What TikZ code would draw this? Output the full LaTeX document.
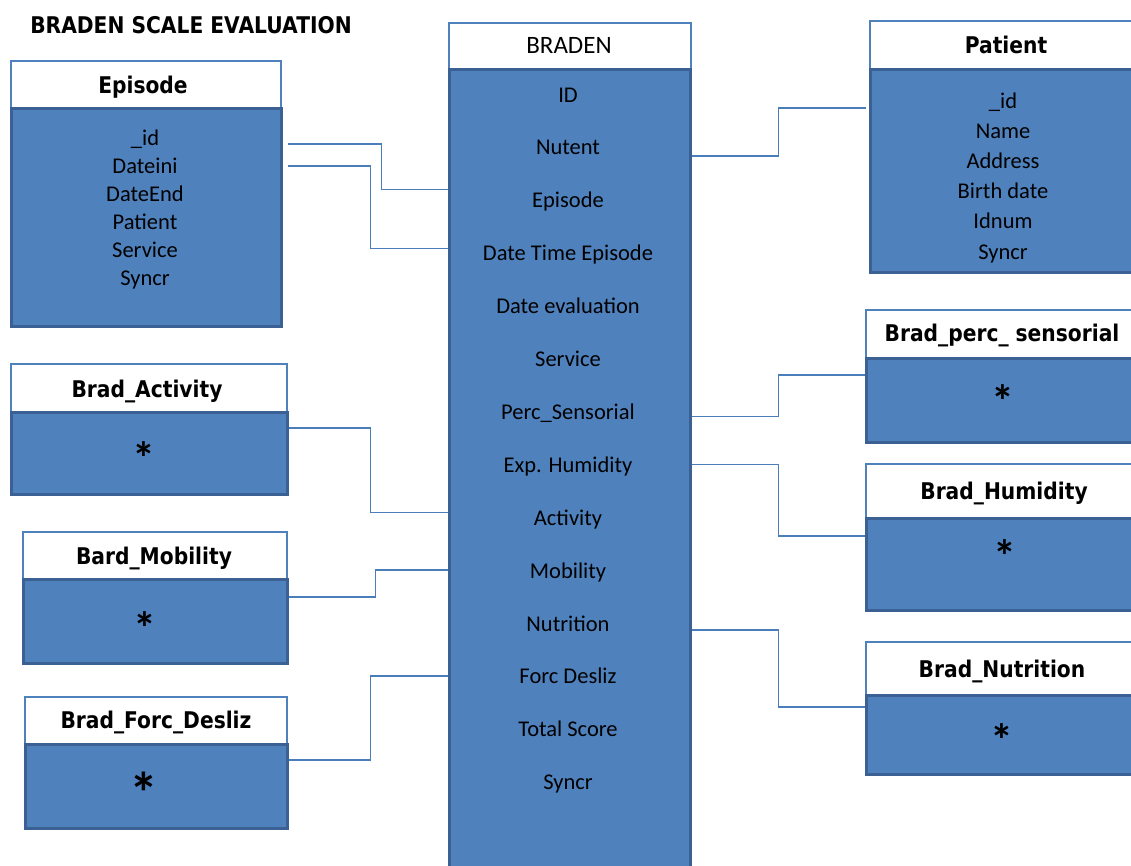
\documentclass[tikz,border=0pt]{standalone}
\usepackage{fontspec}
\setmainfont{Carlito}
\newfontfamily\headfont[FakeStretch=0.88]{DejaVu Sans}
\usetikzlibrary{calc}
\definecolor{boxblue}{HTML}{4F81BD}
\definecolor{rimblue}{HTML}{3B6094}
\definecolor{linkblue}{HTML}{4A7EBB}
\begin{document}
\begin{tikzpicture}[x=1pt, y=-1pt,
		head/.style={draw=boxblue, line width=1.5pt, fill=white, anchor=north west, inner sep=0},
		body/.style={draw=rimblue, line width=2.5pt, fill=boxblue, anchor=north west, inner sep=0},
		field/.style={anchor=base, inner sep=0, font=\fontsize{22.5}{26}\selectfont},
		title/.style={anchor=base, inner sep=0, font=\headfont\bfseries\fontsize{23}{27}\selectfont},
		star/.style={inner sep=0, font=\bfseries\fontsize{46}{46}\selectfont},
		link/.style={draw=linkblue, line width=1.3pt}]
		\clip (0, 0) rectangle (1131, 865);
		% heading
		\node[title] (heading) at (191, 33) {BRADEN SCALE EVALUATION};
		% the episode table
		\node[head, minimum width=270, minimum height=47] (eph) at (10, 60) {};
		\node[body, minimum width=270, minimum height=218] (ep) at (10, 107) {};
		\node[title] (ept) at (143, 93) {Episode};
		\foreach \t [count=\i] in {\_id, Dateini, DateEnd, Patient, Service, Syncr}
			\node[field] (ep-\i) at (145, {117 + 28*\i}) {\t};
		% the braden table
		\node[head, minimum width=242, minimum height=46] (brh) at (448, 22) {};
		\node[body, minimum width=241, minimum height=820] (br) at (448, 68) {};
		\node[field, font=\fontsize{25}{28}\selectfont] (brt) at (569, 53) {BRADEN};
		\foreach \t [count=\i] in {ID, Nutent, Episode, Date Time Episode, Date evaluation, Service,
				Perc\_Sensorial, Exp. Humidity, Activity, Mobility, Nutrition, Forc Desliz, Total Score, Syncr}
			\node[field] (br-\i) at (568, {49.1 + 52.9*\i}) {\t};
		% the patient table
		\node[head, minimum width=280, minimum height=48] (pth) at (869, 20) {};
		\node[body, minimum width=280, minimum height=203] (pt) at (869, 68) {};
		\node[title] (ptt) at (1006, 53) {Patient};
		\foreach \t [count=\i] in {\_id, Name, Address, Birth date, Idnum, Syncr}
			\node[field] (pt-\i) at (1003, {77.8 + 30.2*\i}) {\t};
		% the small tables on the left
		\node[head, minimum width=276, minimum height=48] (ach) at (10, 363) {};
		\node[body, minimum width=276, minimum height=82] (ac) at (10, 411) {};
		\node[title] (act) at (147, 397) {Brad\_Activity};
		\node[star] (acs) at (144, 458) {*};
		\node[head, minimum width=264, minimum height=47] (moh) at (22, 531) {};
		\node[body, minimum width=264, minimum height=84] (mo) at (22, 578) {};
		\node[title] (mot) at (154, 564) {Bard\_Mobility};
		\node[star] (mos) at (145, 628) {*};
		\node[head, minimum width=262, minimum height=47] (fdh) at (24, 696) {};
		\node[body, minimum width=262, minimum height=84] (fd) at (24, 743) {};
		\node[title] (fdt) at (156, 728) {Brad\_Forc\_Desliz};
		\node[star, font=\bfseries\fontsize{58}{58}\selectfont] (fds) at (144, 793) {*};
		% the small tables on the right
		\node[head, minimum width=280, minimum height=48] (psh) at (865, 309) {};
		\node[body, minimum width=280, minimum height=84] (ps) at (865, 357) {};
		\node[title] (pst) at (1002, 341) {Brad\_perc\_ sensorial};
		\node[star] (pss) at (1003, 401) {*};
		\node[head, minimum width=280, minimum height=54] (huh) at (865, 463) {};
		\node[body, minimum width=280, minimum height=92] (hu) at (865, 517) {};
		\node[title] (hut) at (1004, 499) {Brad\_Humidity};
		\node[star] (hus) at (1005, 556) {*};
		\node[head, minimum width=280, minimum height=53] (nuh) at (865, 641) {};
		\node[body, minimum width=280, minimum height=79] (nu) at (865, 694) {};
		\node[title] (nut) at (1002, 677) {Brad\_Nutrition};
		\node[star] (nus) at (1002, 740) {*};
		% links on the left
		\draw[link] ($(ep.east |- ep-1.base)+(5,-1)$) -- ++(94,0) |- ($(br.west |- br-3.base)+(0,-18)$);
		\draw[link] ($(ep.east |- ep-2.base)+(5,-7)$) -- ++(83,0) |- ($(br.west |- br-4.base)+(0,-12)$);
		\draw[link] ($(ac.north east)+(0,17)$) -- ++(82,0) |- ($(br.west |- br-9.base)+(0,-13)$);
		\draw[link] ($(mo.north east)+(0,19)$) -- ++(87,0) |- ($(br.west |- br-10.base)+(0,-8)$);
		\draw[link] ($(fd.north east)+(0,17)$) -- ++(82,0) |- ($(br.west |- br-12.base)+(0,-8)$);
		% links on the right
		\draw[link] ($(br.east |- br-2.base)+(0,1)$) -- ++(87,0) |- ($(pt.west |- pt-1.base)+(-3,0)$);
		\draw[link] ($(br.east |- br-7.base)+(0,-3)$) -- ++(87,0) |- ($(ps.north west)+(0,18)$);
		\draw[link] ($(br.east |- br-8.base)+(0,-8)$) -- ++(87,0) |- ($(hu.north west)+(0,19)$);
		\draw[link] ($(br.east |- br-11.base)+(0,-1)$) -- ++(87,0) |- ($(nu.north west)+(0,13)$);
	\end{tikzpicture}
\end{document}
